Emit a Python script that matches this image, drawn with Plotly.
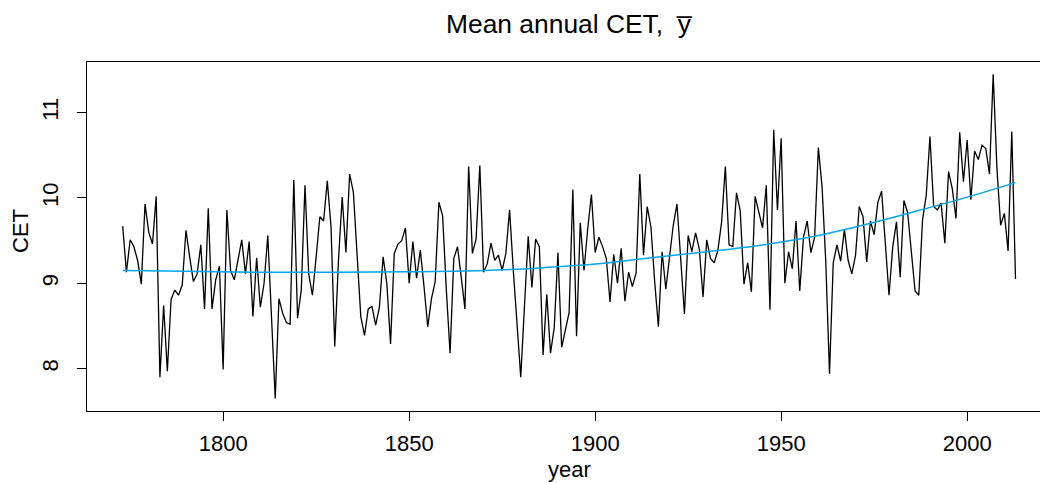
import plotly.graph_objects as go

first_year = 1773
cet = [
    9.67, 9.13, 9.51, 9.43, 9.27, 8.99, 9.93, 9.60, 9.46, 10.02,
    7.90, 8.74, 7.97, 8.81, 8.92, 8.86, 8.98, 9.62, 9.31, 9.02,
    9.11, 9.45, 8.70, 9.88, 8.70, 9.04, 9.20, 7.99, 9.86, 9.15,
    9.04, 9.29, 9.51, 9.11, 9.49, 8.61, 9.30, 8.72, 9.00, 9.56,
    8.61, 7.65, 8.82, 8.65, 8.54, 8.52, 10.21, 8.59, 8.92, 10.15,
    9.11, 8.86, 9.31, 9.78, 9.73, 10.20, 9.66, 8.26, 9.27, 10.01,
    9.36, 10.28, 10.07, 9.39, 8.61, 8.39, 8.70, 8.73, 8.51, 8.72,
    9.31, 9.00, 8.29, 9.35, 9.46, 9.50, 9.65, 9.00, 9.49, 9.06,
    9.39, 8.96, 8.49, 8.82, 9.02, 9.95, 9.79, 8.92, 8.18, 9.29,
    9.43, 9.07, 8.70, 10.37, 9.35, 9.52, 10.38, 9.13, 9.23, 9.47,
    9.27, 9.33, 9.15, 9.35, 9.86, 9.15, 8.53, 7.90, 8.73, 9.55,
    8.95, 9.52, 9.43, 8.16, 8.87, 8.18, 8.48, 9.36, 8.25, 8.45,
    8.66, 10.10, 8.38, 9.71, 9.15, 9.64, 10.04, 9.36, 9.54, 9.43,
    9.29, 8.78, 9.34, 9.00, 9.41, 8.79, 9.13, 8.96, 9.12, 10.28,
    9.33, 9.90, 9.66, 9.02, 8.49, 9.37, 8.93, 9.31, 9.68, 9.93,
    9.29, 8.64, 9.56, 9.37, 9.59, 9.40, 8.84, 9.51, 9.29, 9.24,
    9.39, 9.72, 10.37, 9.45, 9.43, 10.06, 9.85, 8.99, 9.24, 8.90,
    10.02, 9.83, 9.65, 10.15, 8.69, 10.80, 9.86, 10.70, 9.00, 9.37,
    9.17, 9.73, 8.91, 9.54, 9.73, 9.36, 9.54, 10.59, 10.13, 9.25,
    7.94, 9.24, 9.45, 9.26, 9.63, 9.27, 9.11, 9.33, 9.90, 9.78,
    9.25, 9.73, 9.57, 9.95, 10.08, 9.47, 8.86, 9.43, 9.72, 9.07,
    9.97, 9.83, 9.35, 8.91, 8.86, 9.74, 10.03, 10.72, 9.90, 9.86,
    9.94, 9.47, 10.31, 10.11, 9.76, 10.77, 10.19, 10.68,
    9.98, 10.55, 10.45, 10.62, 10.58, 10.28, 11.45, 10.35, 9.68, 9.82,
    9.38, 10.78, 9.05,
]
years = list(range(first_year, first_year + len(cet)))

# smooth trend at a handful of years
trend_years = [1773, 1790, 1810, 1830, 1850, 1870, 1885, 1900, 1915,
               1930, 1945, 1960, 1970, 1980, 1990, 2000, 2013]
trend_values = [9.15, 9.14, 9.13, 9.13, 9.135, 9.15, 9.18, 9.225, 9.30,
                9.37, 9.45, 9.56, 9.66, 9.77, 9.89, 10.01, 10.18]

x_ticks = [1800, 1850, 1900, 1950, 2000]
y_ticks = [8, 9, 10, 11]

title_text = "Mean annual CET,  y\u0305"
x_label = "year"
y_label = "CET"

W, H = 1040, 483
L, R, T, B = 87, 0, 62, 72
pw = W - L - R
ph = H - T - B

fig = go.Figure()
fig.add_trace(go.Scatter(x=years, y=cet, mode="lines",
                         line=dict(color="black", width=1.3),
                         hoverinfo="skip"))
fig.add_trace(go.Scatter(x=trend_years, y=trend_values, mode="lines",
                         line=dict(color="#00A6E8", width=1.5,
                                   shape="spline", smoothing=1.0),
                         hoverinfo="skip"))

font_family = "Liberation Sans, Arial, Helvetica, sans-serif"


def px_to_paper_x(px):
    return (px - L) / pw


def px_to_paper_y(py):
    return (H - B - py) / ph


fig.update_layout(
    width=W, height=H,
    margin=dict(l=L, r=R, t=T, b=B, pad=0),
    plot_bgcolor="white", paper_bgcolor="white",
    showlegend=False,
    font=dict(family=font_family, size=22, color="black"),
    annotations=[
        dict(text=title_text, xref="paper", yref="paper",
             x=px_to_paper_x(569), y=px_to_paper_y(23.5),
             xanchor="center", yanchor="middle", showarrow=False,
             font=dict(size=26.4, family=font_family, color="black")),
        dict(text=x_label, xref="paper", yref="paper",
             x=px_to_paper_x(569), y=px_to_paper_y(470),
             xanchor="center", yanchor="middle", showarrow=False,
             font=dict(size=22, family=font_family, color="black")),
        dict(text=y_label, xref="paper", yref="paper",
             x=px_to_paper_x(20.5), y=px_to_paper_y(231.5),
             xanchor="center", yanchor="middle", showarrow=False,
             textangle=-90,
             font=dict(size=22, family=font_family, color="black")),
    ],
)

x_min = 1763.4
px_per_year = 3.72
fig.update_xaxes(range=[x_min, x_min + pw / px_per_year],
                 tickvals=x_ticks, ticks="outside", ticklen=9, tickwidth=1,
                 tickcolor="black", showline=True, linecolor="black",
                 linewidth=1, mirror=True, showgrid=False, zeroline=False,
                 ticklabelstandoff=4)
fig.update_yaxes(range=[7.503, 11.594],
                 tickvals=y_ticks, ticks="outside", ticklen=9, tickwidth=1,
                 tickcolor="black", showline=True, linecolor="black",
                 linewidth=1, mirror=False, showgrid=False, zeroline=False,
                 tickangle=-90, ticklabelstandoff=10)

fig.write_html("out.html")
